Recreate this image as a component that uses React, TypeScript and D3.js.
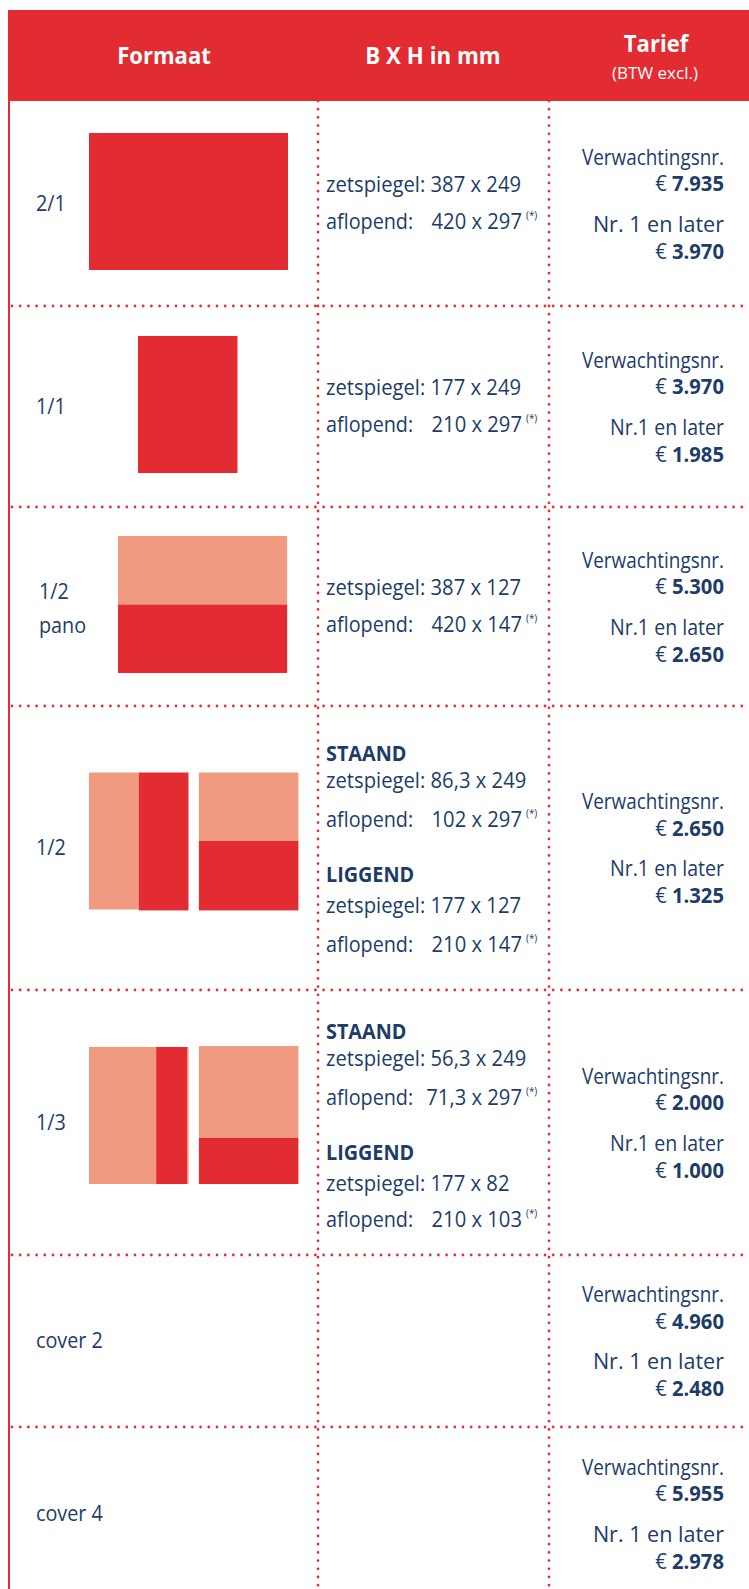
import React from 'react';
import * as d3 from 'd3';

const formatLabels = [['2/1'], ['1/1'], ['1/2', 'pano'], ['1/2'], ['1/3'], ['cover 2'], ['cover 4']];

const zetspiegel = [[387, 249], [177, 249], [387, 127], null, null, null, null];
const aflopend = [[420, 297], [210, 297], [420, 147], null, null, null, null];

const staandZetspiegel = [null, null, null, [86.3, 249], [56.3, 249], null, null];
const staandAflopend = [null, null, null, [102, 297], [71.3, 297], null, null];
const liggendZetspiegel = [null, null, null, [177, 127], [177, 82], null, null];
const liggendAflopend = [null, null, null, [210, 147], [210, 103], null, null];

const verwachtingsPrice = [7935, 3970, 5300, 2650, 2000, 4960, 5955];
const laterPrice = [3970, 1985, 2650, 1325, 1000, 2480, 2978];
const laterLabels = ['Nr. 1 en later', 'Nr.1 en later', 'Nr.1 en later', 'Nr.1 en later', 'Nr.1 en later', 'Nr. 1 en later', 'Nr. 1 en later'];

// figure pieces in mm (page = 210 x 297), 'a' = ad area, 'r' = rest of page
const figureParts = [
  [{ x0: 0, x1: 420, y0: 0, y1: 297, k: 'a' }],
  [{ x0: 0, x1: 210, y0: 0, y1: 297, k: 'a' }],
  [{ x0: 0, x1: 357, y0: 0, y1: 148.5, k: 'r' }, { x0: 0, x1: 357, y0: 148.5, y1: 297, k: 'a' }],
  [
    { x0: 0, x1: 105, y0: 0, y1: 297, k: 'r' }, { x0: 105, x1: 210, y0: 0, y1: 299, k: 'a' },
    { x0: 232, x1: 442, y0: 0, y1: 148.5, k: 'r' }, { x0: 232, x1: 442, y0: 148.5, y1: 299, k: 'a' },
  ],
  [
    { x0: 0, x1: 210, y0: 0, y1: 297, k: 'r' }, { x0: 142, x1: 207, y0: 0, y1: 297, k: 'a' },
    { x0: 232, x1: 442, y0: -2, y1: 197, k: 'r' }, { x0: 232, x1: 442, y0: 197, y1: 297, k: 'a' },
  ],
  [],
  [],
];
const figureLeft = [89, 138, 118, 89, 89, 0, 0];

// ---- layout ----
const W = 749;
const H = 1589;
const rowEdges = [101, 306, 507, 706, 990, 1255, 1427, 1600];
const colDividers = [318, 549];
const RED = '#e32b32';
const SALMON = '#f09a82';
const NAVY = '#1d3c6a';
const FONT = "'Open Sans', 'Noto Sans', sans-serif";
const FS = 22; // body font size
const SQ = 0.9; // horizontal squeeze, the original face is condensed

const nl = d3.formatLocale({ decimal: ',', thousands: '.', grouping: [3], currency: ['€ ', ''] });
const fmtPrice = nl.format(',d');
const fmtDim = nl.format('~');
const dims = (d: number[]) => `${fmtDim(d[0])} x ${fmtDim(d[1])}`;

const sx = d3.scaleLinear().domain([0, 210]).range([0, 99.5]);
const sy = d3.scaleLinear().domain([0, 297]).range([0, 137]);

// condensed text helper
function T({ x, y, anchor = 'start', k = SQ, children, ...rest }: any) {
  return (
    <text transform={`translate(${x},${y}) scale(${k},1)`} textAnchor={anchor} {...rest}>
      {children}
    </text>
  );
}

function Dotted({ x1, y1, x2, y2 }: any) {
  return (
    <line x1={x1} y1={y1} x2={x2} y2={y2} stroke="#e62e36" strokeWidth={2.8}
      strokeLinecap="round" strokeDasharray="0 8.2" />
  );
}

function Aflopend({ y, d }: { y: number; d: number[] }) {
  return (
    <g>
      <T x={326} y={y}>aflopend:</T>
      <T x={522} y={y} anchor="end" k={0.92}>{dims(d)}</T>
      <T x={526} y={y - 10} fontSize={11}>(*)</T>
    </g>
  );
}

export default function App() {
  const mids = d3.pairs(rowEdges).map(([a, b]) => (a + b) / 2);
  return (
    <svg width={W} height={H} style={{ position: 'absolute', left: 0, top: 0, display: 'block' }}
      fontFamily={FONT} fill={NAVY}>
      <rect x={0} y={0} width={W} height={H} fill="#fff" />
      {/* header */}
      <rect x={8} y={10} width={W - 8} height={91} fill={RED} />
      <g fill="#fff" fontWeight={700} fontSize={23}>
        <T x={164} y={64} anchor="middle" k={0.96}>Formaat</T>
        <T x={433} y={64} anchor="middle" k={0.97}>B X H in mm</T>
        <T x={656} y={52} anchor="middle" k={0.96}>Tarief</T>
        <T x={655} y={79} anchor="middle" fontWeight={400} fontSize={17} k={1}>(BTW excl.)</T>
      </g>
      {/* grid */}
      <line x1={9} y1={101} x2={9} y2={H} stroke={RED} strokeWidth={2} />
      {rowEdges.slice(1, -1).map((y) => <Dotted key={y} x1={12} y1={y} x2={W} y2={y} />)}
      {colDividers.map((x) => <Dotted key={x} x1={x} y1={101} x2={x} y2={H} />)}

      {mids.map((m, i) => {
        const parts = figureParts[i];
        const figH = sy(297);
        const figTop = m - figH / 2 - (parts.length > 2 ? 7 : 2);
        const labels = formatLabels[i];
        const stOff = i === 4 ? 3 : 0; // 1/3 block sits a little lower
        return (
          <g key={i} fontSize={FS}>
            {/* format label */}
            {labels.map((t, j) => (
              <T key={t} x={labels.length > 1 ? 39 : 36}
                y={labels.length > 1 ? m - 8 + j * 34 : m + 7}>{t}</T>
            ))}
            {/* figure */}
            {parts.map((p, j) => (
              <rect key={j} x={figureLeft[i] + sx(p.x0)} y={figTop + sy(p.y0)}
                width={sx(p.x1) - sx(p.x0)} height={sy(p.y1) - sy(p.y0)}
                fill={p.k === 'a' ? RED : SALMON} />
            ))}
            {/* dimensions */}
            {zetspiegel[i] && (
              <g>
                <T x={326} y={m - 12} k={0.92}>zetspiegel: {dims(zetspiegel[i] as number[])}</T>
                <Aflopend y={m + 25} d={aflopend[i] as number[]} />
              </g>
            )}
            {staandZetspiegel[i] && (
              <g>
                <T x={326} y={m - 87 + stOff} fontWeight={700}>STAAND</T>
                <T x={326} y={m - 60 + stOff} k={0.92}>zetspiegel: {dims(staandZetspiegel[i] as number[])}</T>
                <Aflopend y={m - 21 + stOff} d={staandAflopend[i] as number[]} />
                <T x={326} y={m + 34 + stOff} fontWeight={700}>LIGGEND</T>
                <T x={326} y={m + 65 + stOff} k={0.92}>zetspiegel: {dims(liggendZetspiegel[i] as number[])}</T>
                <Aflopend y={m + 104} d={liggendAflopend[i] as number[]} />
              </g>
            )}
            {/* prices */}
            <g>
              <T x={724} y={m - 39} anchor="end" k={0.86}>Verwachtingsnr.</T>
              <T x={724} y={m - 12.5} anchor="end" k={0.92}>€ <tspan fontWeight={700}>{fmtPrice(verwachtingsPrice[i])}</tspan></T>
              <T x={724} y={m + 28} anchor="end" k={laterLabels[i].includes('. ') ? 0.98 : 0.89}>{laterLabels[i]}</T>
              <T x={724} y={m + 55} anchor="end" k={0.92}>€ <tspan fontWeight={700}>{fmtPrice(laterPrice[i])}</tspan></T>
            </g>
          </g>
        );
      })}
    </svg>
  );
}
